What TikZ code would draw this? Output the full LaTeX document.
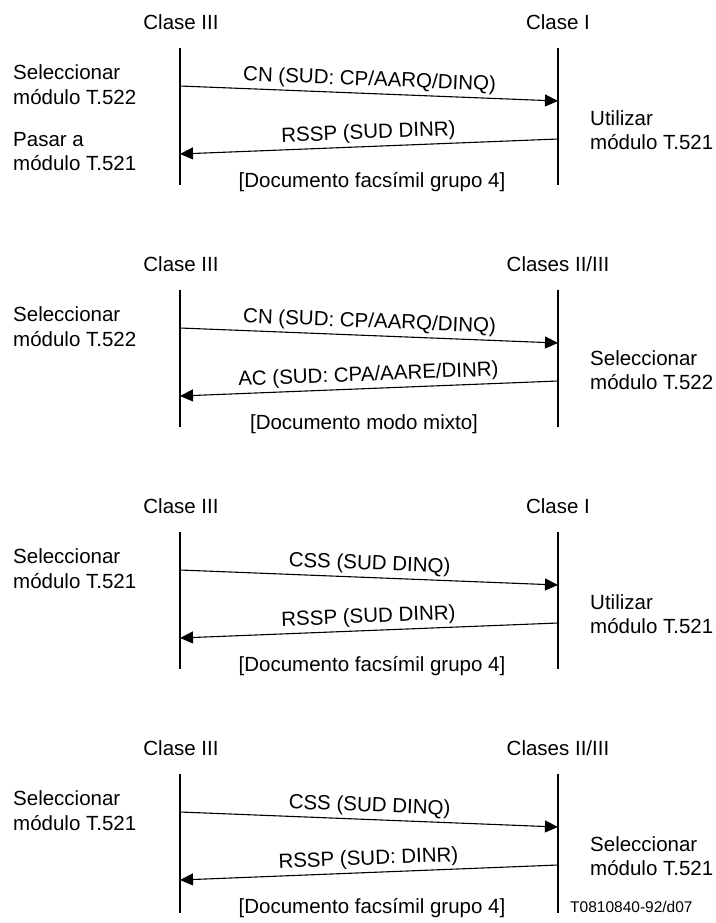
\documentclass[tikz,border=0pt]{standalone}
\usepackage{fontspec}
\setmainfont{Liberation Sans}
\usetikzlibrary{arrows.meta}

\tikzset{
  lifeline/.style={line width=1.8bp},
  msg/.style={line width=1.1bp, -{Triangle[length=13bp,width=12bp]}},
  msgback/.style={line width=1.1bp, {Triangle[length=13bp,width=12bp]}-},
  lbl/.style={midway, sloped, above=2bp, inner sep=1bp},
  side/.style={align=left, anchor=west, inner sep=0pt},
  note/.style={inner sep=0pt},
}

\begin{document}
\begin{tikzpicture}[x=1bp, y=-1bp, font=\fontsize{20.5bp}{24.5bp}\selectfont]
\useasboundingbox (0,0) rectangle (716,923);

% ---------- Clase III / Clase I (T.522 -> T.521) ----------
\begin{scope}
  \node[note] (a-cl) at (181,22) {Clase III};
  \node[note] (a-cr) at (558,22) {Clase I};
  \coordinate (a-lt) at (180,48);  \coordinate (a-lb) at (180,185);
  \coordinate (a-rt) at (558,48);  \coordinate (a-rb) at (558,185);
  \draw[lifeline] (a-lt) -- (a-lb);
  \draw[lifeline] (a-rt) -- (a-rb);
  \coordinate (a-m1s) at (180,86);  \coordinate (a-m1e) at (558,101);
  \draw[msg] (a-m1s) -- (a-m1e) node[lbl] {CN (SUD: CP/AARQ/DINQ)};
  \coordinate (a-m2e) at (180,154); \coordinate (a-m2s) at (558,139);
  \draw[msgback] (a-m2e) -- (a-m2s) node[lbl] {RSSP (SUD DINR)};
  \node[note] (a-doc) at (372,182) {[Documento facsímil grupo 4]};
  \node[side] (a-left1) at (13,84.5) {Seleccionar\\módulo T.522};
  \node[side] (a-left2) at (13,151.5) {Pasar a\\módulo T.521};
  \node[side] (a-right) at (590,130) {Utilizar\\módulo T.521};
\end{scope}

% ---------- Clase III / Clases II/III (T.522 both ends) ----------
\begin{scope}[shift={(0,242)}]
  \node[note] (b-cl) at (181,22) {Clase III};
  \node[note] (b-cr) at (558,22) {Clases II/III};
  \coordinate (b-lt) at (180,48);  \coordinate (b-lb) at (180,185);
  \coordinate (b-rt) at (558,48);  \coordinate (b-rb) at (558,185);
  \draw[lifeline] (b-lt) -- (b-lb);
  \draw[lifeline] (b-rt) -- (b-rb);
  \coordinate (b-m1s) at (180,86);  \coordinate (b-m1e) at (558,101);
  \draw[msg] (b-m1s) -- (b-m1e) node[lbl] {CN (SUD: CP/AARQ/DINQ)};
  \coordinate (b-m2e) at (180,154); \coordinate (b-m2s) at (558,139);
  \draw[msgback] (b-m2e) -- (b-m2s) node[lbl] {AC (SUD: CPA/AARE/DINR)};
  \node[note] (b-doc) at (364,182) {[Documento modo mixto]};
  \node[side] (b-left1) at (13,84.5) {Seleccionar\\módulo T.522};
  \node[side] (b-right) at (590,128) {Seleccionar\\módulo T.522};
\end{scope}

% ---------- Clase III / Clase I (T.521) ----------
\begin{scope}[shift={(0,484)}]
  \node[note] (c-cl) at (181,22) {Clase III};
  \node[note] (c-cr) at (558,22) {Clase I};
  \coordinate (c-lt) at (180,48);  \coordinate (c-lb) at (180,185);
  \coordinate (c-rt) at (558,48);  \coordinate (c-rb) at (558,185);
  \draw[lifeline] (c-lt) -- (c-lb);
  \draw[lifeline] (c-rt) -- (c-rb);
  \coordinate (c-m1s) at (180,86);  \coordinate (c-m1e) at (558,101);
  \draw[msg] (c-m1s) -- (c-m1e) node[lbl] {CSS (SUD DINQ)};
  \coordinate (c-m2e) at (180,154); \coordinate (c-m2s) at (558,139);
  \draw[msgback] (c-m2e) -- (c-m2s) node[lbl] {RSSP (SUD DINR)};
  \node[note] (c-doc) at (372,182) {[Documento facsímil grupo 4]};
  \node[side] (c-left1) at (13,84.5) {Seleccionar\\módulo T.521};
  \node[side] (c-right) at (590,130) {Utilizar\\módulo T.521};
\end{scope}

% ---------- Clase III / Clases II/III (T.521) ----------
\begin{scope}[shift={(0,726)}]
  \node[note] (d-cl) at (181,22) {Clase III};
  \node[note] (d-cr) at (558,22) {Clases II/III};
  \coordinate (d-lt) at (180,48);  \coordinate (d-lb) at (180,187);
  \coordinate (d-rt) at (558,48);  \coordinate (d-rb) at (558,187);
  \draw[lifeline] (d-lt) -- (d-lb);
  \draw[lifeline] (d-rt) -- (d-rb);
  \coordinate (d-m1s) at (180,86);  \coordinate (d-m1e) at (558,101);
  \draw[msg] (d-m1s) -- (d-m1e) node[lbl] {CSS (SUD DINQ)};
  \coordinate (d-m2e) at (180,154); \coordinate (d-m2s) at (558,139);
  \draw[msgback] (d-m2e) -- (d-m2s) node[lbl] {RSSP (SUD: DINR)};
  \node[note] (d-doc) at (372,182) {[Documento facsímil grupo 4]};
  \node[side] (d-left1) at (13,84.5) {Seleccionar\\módulo T.521};
  \node[side] (d-right) at (590,130) {Seleccionar\\módulo T.521};
  \node[note, anchor=west, font=\fontsize{15.5bp}{18bp}\selectfont] (d-id) at (570,181) {T0810840-92/d07};
\end{scope}
\end{tikzpicture}
\end{document}
